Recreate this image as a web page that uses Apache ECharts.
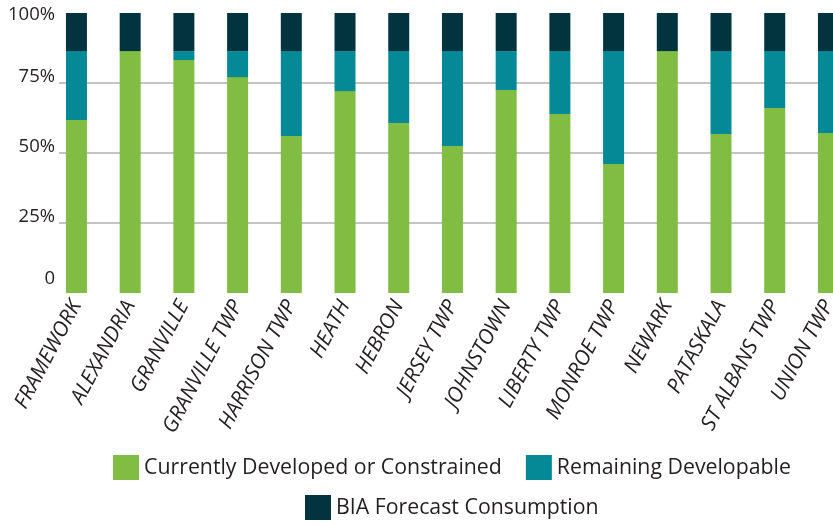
<!DOCTYPE html>
<html>
<head>
<meta charset="utf-8">
<script src="https://cdn.jsdelivr.net/npm/echarts@6/dist/echarts.min.js"></script>
<style>html,body{margin:0;padding:0;background:#fff}#c{width:833px;height:524px}</style>
</head>
<body>
<div id="c"></div>
<script>
const categories = ['FRAMEWORK','ALEXANDRIA','GRANVILLE','GRANVILLE TWP','HARRISON TWP','HEATH','HEBRON','JERSEY TWP','JOHNSTOWN','LIBERTY TWP','MONROE TWP','NEWARK','PATASKALA','ST ALBANS TWP','UNION TWP'];
const developed = [61.8, 86.4, 83.2, 77.1, 56.1, 72.1, 60.7, 52.5, 72.5, 63.9, 46.1, 86.4, 56.8, 66.1, 57.1];
const remaining = [24.6, 0, 3.2, 9.3, 30.3, 14.3, 25.7, 33.9, 13.9, 22.5, 40.3, 0, 29.6, 20.3, 29.3];
const forecast = [13.6, 13.6, 13.6, 13.6, 13.6, 13.6, 13.6, 13.6, 13.6, 13.6, 13.6, 13.6, 13.6, 13.6, 13.6];
const yTicks = [0, 25, 50, 75, 100];
const seriesNames = ['Currently Developed or Constrained', 'Remaining Developable', 'BIA Forecast Consumption'];
const colors = ['#80bd42', '#058996', '#02343f'];

const chart = echarts.init(document.getElementById('c'), null, {renderer: 'canvas'});
const FONT = 'Open Sans';
const option = {
  animation: false,
  color: colors,
  grid: [
    {left: 49.6, width: 805.7, top: 13, bottom: 231, containLabel: false, outerBoundsMode: 'none'},
    {left: 59, right: 0, top: 13, bottom: 231, containLabel: false, outerBoundsMode: 'none'}
  ],
  legend: [
    {data: [seriesNames[0], seriesNames[1]], left: 113, top: 455, padding: 0,
     itemWidth: 26, itemHeight: 25, itemGap: 24, icon: 'rect',
     textStyle: {fontFamily: FONT, fontSize: 21.3, color: '#231f20'}},
    {data: [seriesNames[2]], left: 305, top: 495, padding: 0,
     itemWidth: 26, itemHeight: 25, icon: 'rect',
     textStyle: {fontFamily: FONT, fontSize: 21.3, color: '#231f20'}}
  ],
  xAxis: [
    {type: 'category', gridIndex: 0, data: categories,
     axisLine: {show: false}, axisTick: {show: false},
     axisLabel: {rotate: 62, interval: 0, margin: 9, fontFamily: FONT, fontStyle: 'italic',
                 fontSize: 21, color: '#231f20'}},
    {type: 'value', gridIndex: 1, show: false, min: 0, max: 1}
  ],
  yAxis: [
    {type: 'value', gridIndex: 0, min: yTicks[0], max: yTicks[yTicks.length-1], interval: 25, show: false},
    {type: 'value', gridIndex: 1, min: yTicks[0], max: yTicks[yTicks.length-1], interval: 25,
     axisLine: {show: false}, axisTick: {show: false},
     splitLine: {show: true, showMinLine: false, showMaxLine: false, lineStyle: {color: '#c4c4c4', width: 2}},
     axisLabel: {margin: 4, fontFamily: FONT, fontSize: 18.5, color: '#231f20',
       formatter: function (v) {
         if (v === 0) return '{z|0}';
         if (v === 100) return '{t|100%}';
         return '{n|' + v + '%}';
       },
       rich: {
         z: {fontFamily: FONT, fontSize: 18.5, color: '#231f20', lineHeight: 20, padding: [0, 0, 28, 0]},
         t: {fontFamily: FONT, fontSize: 18.5, color: '#231f20', lineHeight: 20, padding: [4, 0, 0, 0]},
         n: {fontFamily: FONT, fontSize: 18.5, color: '#231f20', lineHeight: 20, padding: [0, 0, 12, 0]}
       }
     }}
  ],
  series: [
    {name: seriesNames[0], type: 'bar', stack: 'a', xAxisIndex: 0, yAxisIndex: 0, barWidth: 21, data: developed},
    {name: seriesNames[1], type: 'bar', stack: 'a', xAxisIndex: 0, yAxisIndex: 0, barWidth: 21, data: remaining},
    {name: seriesNames[2], type: 'bar', stack: 'a', xAxisIndex: 0, yAxisIndex: 0, barWidth: 21, data: forecast}
  ]
};
chart.setOption(option);
</script>
</body>
</html>
